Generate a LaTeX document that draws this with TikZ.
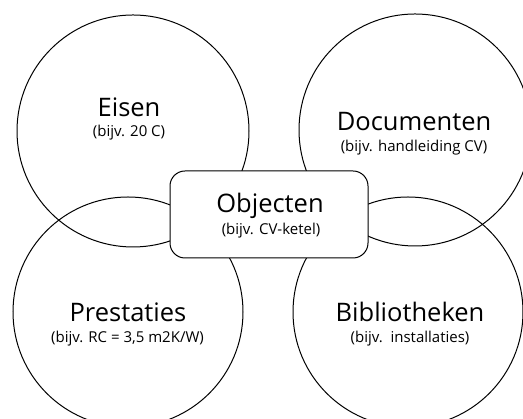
\documentclass[tikz,border=0pt]{standalone}
\usepackage{fontspec}
\setmainfont{Open Sans}
\usepackage{tikz}

\begin{document}
\begin{tikzpicture}[x=1pt, y=1pt,
    bubble/.style={circle, draw, line width=1pt, inner sep=0pt},
    kop/.style={anchor=base, inner sep=0pt, font=\fontsize{25.5}{30}\selectfont},
    sub/.style={anchor=base, inner sep=0pt, font=\fontsize{15}{18}\selectfont}]
        \useasboundingbox (0, 0) rectangle (523, 419);
        % the four circles
        \node[bubble, minimum size=232pt] (eisen) at (133, 288) {};
        \node[bubble, minimum size=232pt] (docs) at (415, 289) {};
        \node[bubble, minimum size=230pt] (prest) at (128, 107) {};
        \node[bubble, minimum size=230pt] (biblio) at (408, 107) {};
        % central box on top
        \node[draw, fill=white, line width=1pt, rounded corners=15pt,
              minimum width=198pt, minimum height=87pt] (obj) at (269, 204.5) {};
        % labels
        \node[kop] (eisenT) at (129, 302) {Eisen};
        \node[sub] (eisenS) at (129, 282) {(bijv. 20 C)};
        \node[kop] (docsT) at (414, 288) {Documenten};
        \node[sub] (docsS) at (414, 267) {(bijv. handleiding CV)};
        \node[kop] (objT) at (270, 206) {Objecten};
        \node[sub] (objS) at (271, 184) {(bijv. CV-ketel)};
        \node[kop] (prestT) at (128, 97) {Prestaties};
        \node[sub] (prestS) at (127.5, 76) {(bijv. RC = 3,5 m2K/W)};
        \node[kop] (biblioT) at (410, 97) {Bibliotheken};
        \node[sub] (biblioS) at (410, 76) {(bijv.\ \ installaties)};
\end{tikzpicture}
\end{document}
